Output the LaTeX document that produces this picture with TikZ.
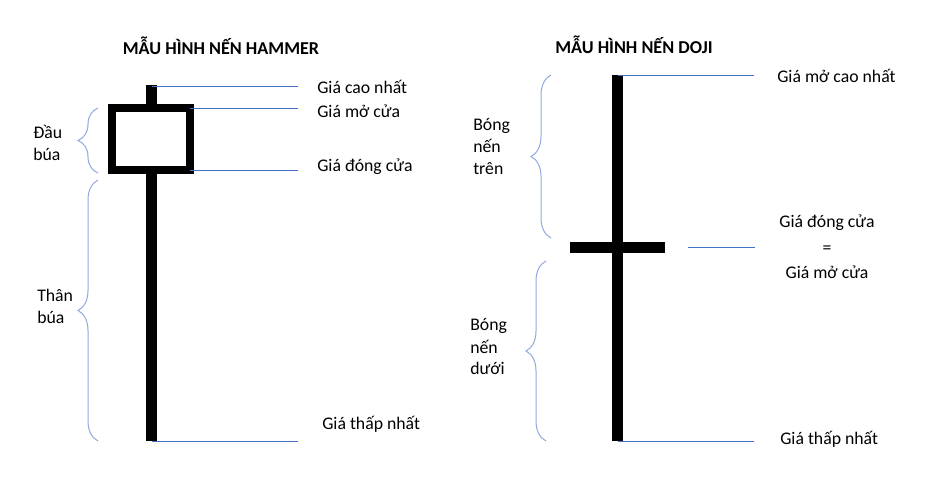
\documentclass[tikz,border=0pt]{standalone}
\usepackage{fontspec}
\setmainfont{Carlito}
\usetikzlibrary{decorations.pathreplacing}
\definecolor{leadblue}{HTML}{4472C4}
\definecolor{braceblue}{HTML}{8FAADC}

\begin{document}
\begin{tikzpicture}[x=0.75pt,y=-0.75pt]
\tikzset{
  wick/.style={line width=8.25pt},
  body/.style={line width=6pt, fill=white},
  leader/.style={leadblue, line width=0.75pt},
  bracket/.style={braceblue, line width=0.75pt, decorate, decoration={brace, amplitude=15pt}},
  lbl/.style={font=\fontsize{13.3}{16.5}\selectfont, inner sep=0pt, align=left},
  heading/.style={font=\bfseries\fontsize{13.6}{15}\selectfont, inner sep=0pt}
}
\useasboundingbox (0,0) rectangle (928,479);

\node[heading] (tHammer) at (221,46) {MẪU HÌNH NẾN HAMMER};
\node[heading] (tDoji) at (634,45) {MẪU HÌNH NẾN DOJI};

% hammer
\coordinate (hTop) at (151.5,85);
\coordinate (hLow) at (151.5,441);
\draw[wick] (hTop) -- (hLow);
\draw[body] (112,108) rectangle (190,170);
\coordinate (hOpen) at (190,108);
\coordinate (hClose) at (190,170);
\coordinate (hTopEnd) at (298,86);
\coordinate (hOpenEnd) at (298,108);
\coordinate (hCloseEnd) at (298,170);
\coordinate (hLowEnd) at (298,441);
\draw[leader] ([yshift=-0.75pt]hTop) -- (hTopEnd);
\draw[leader] (hOpen) -- (hOpenEnd);
\draw[leader] (hClose) -- (hCloseEnd);
\draw[leader] (hLow) -- (hLowEnd);
\node[lbl, anchor=west] (hHighLbl) at (317,87) {Giá cao nhất};
\node[lbl, anchor=west] (hOpenLbl) at (317,111) {Giá mở cửa};
\node[lbl, anchor=west] (hCloseLbl) at (317,167) {Giá đóng cửa};
\node[lbl, anchor=west] (hLowLbl) at (322,424) {Giá thấp nhất};

\draw[bracket] (98,173) -- (98,108);
\draw[bracket] (98,441) -- (98,180);
\node[lbl, anchor=west] (hHead) at (33,143) {Đầu\\búa};
\node[lbl, anchor=west] (hShaft) at (37,306) {Thân\\búa};

% doji
\coordinate (dTop) at (617.5,75);
\coordinate (dLow) at (617.5,441);
\coordinate (dBarL) at (570,247.5);
\coordinate (dBarR) at (665,247.5);
\draw[wick] (dTop) -- (dLow);
\draw[wick] (dBarL) -- (dBarR);
\coordinate (dTopEnd) at (754,75);
\coordinate (dMidStart) at (688,247);
\coordinate (dMidEnd) at (755,247);
\coordinate (dLowEnd) at (754,441);
\draw[leader] (dTop) -- (dTopEnd);
\draw[leader] (dMidStart) -- (dMidEnd);
\draw[leader] (dLow) -- (dLowEnd);
\node[lbl, anchor=west] (dHighLbl) at (777,76) {Giá mở cao nhất};
\node[lbl, align=center] (dMidLbl) at (827,247) {Giá đóng cửa\\[2.5pt]=\\[2.5pt]Giá mở cửa};
\node[lbl, anchor=west] (dLowLbl) at (780,439) {Giá thấp nhất};

\draw[bracket] (551,238) -- (551,75);
\draw[bracket] (546,441) -- (546,261);
\node[lbl, anchor=west] (dUpper) at (473,147) {Bóng\\nến\\trên};
\node[lbl, anchor=west] (dLower) at (470,347) {Bóng\\nến\\dưới};
\end{tikzpicture}
\end{document}
